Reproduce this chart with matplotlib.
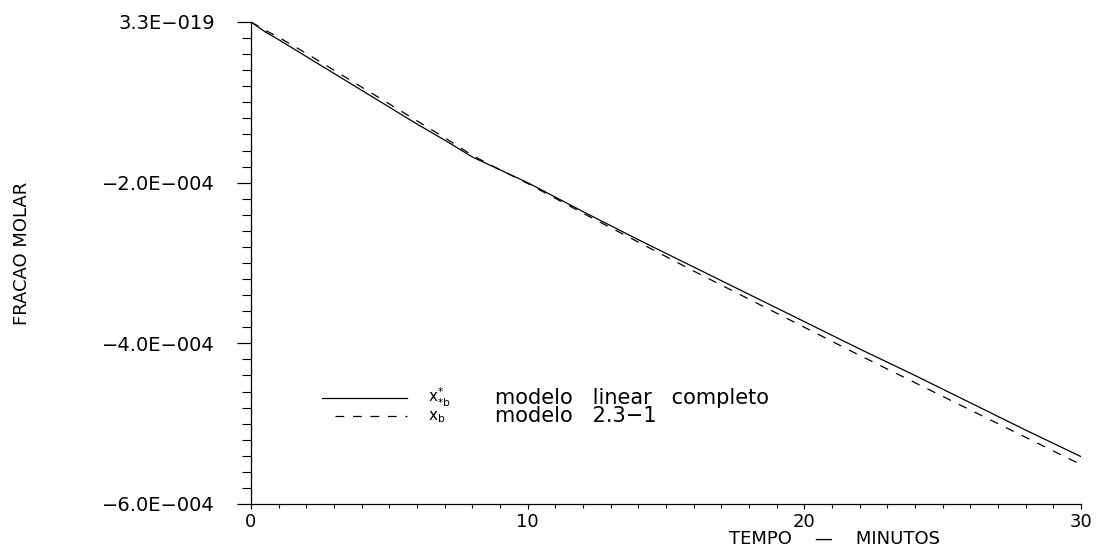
import matplotlib.pyplot as plt
import numpy as np
from matplotlib.ticker import MultipleLocator

# tempo (min) e fracao molar (x 1e-4)
tempo = [0, 0.5, 1, 2, 3, 4, 5, 6, 7, 8, 9, 10, 12, 14, 16, 18, 20, 22, 24, 26, 28, 30]
linear_completo = [0, -0.12, -0.22, -0.43, -0.64, -0.85, -1.06, -1.27, -1.47, -1.68, -1.84,
                   -2.00, -2.36, -2.71, -3.05, -3.39, -3.73, -4.07, -4.40, -4.74, -5.08, -5.41]
modelo_231 = [0, -0.10, -0.19, -0.39, -0.60, -0.81, -1.02, -1.23, -1.44, -1.66, -1.84,
              -2.01, -2.38, -2.74, -3.10, -3.45, -3.80, -4.15, -4.49, -4.83, -5.17, -5.51]

yticks = [0, -2e-4, -4e-4, -6e-4]
ytick_labels = ['3.3E\u2212019', '\u22122.0E\u2212004', '\u22124.0E\u2212004', '\u22126.0E\u2212004']
xticks = [0, 10, 20, 30]
xtick_labels = ['0', '10', '20', '30']

scale = 1e-4

fig = plt.figure(figsize=(11.06, 5.51), dpi=100)
ax = fig.add_axes([0.2269, 0.0853, 0.7505, 0.8748])

ax.plot(tempo, np.array(linear_completo) * scale, color='black', lw=0.9)
ax.plot(tempo, np.array(modelo_231) * scale, color='black', lw=0.9, dashes=(7, 7))

ax.set_xlim(0, 30)
ax.set_ylim(-6e-4, 0)

for side in ['top', 'right']:
    ax.spines[side].set_visible(False)
for side in ['left', 'bottom']:
    ax.spines[side].set_linewidth(0.9)

ax.set_yticks(yticks)
ax.set_yticklabels(ytick_labels, fontsize=14)
ax.yaxis.set_minor_locator(MultipleLocator(0.2e-4))
ax.tick_params(axis='y', which='major', length=10, width=0.9, pad=16)
ax.tick_params(axis='y', which='minor', length=6.5, width=0.8)

ax.set_xticks(xticks)
ax.set_xticklabels(xtick_labels, fontsize=13)
ax.xaxis.set_minor_locator(MultipleLocator(1))
ax.tick_params(axis='x', which='major', length=3.5, width=0.8, pad=3)
ax.tick_params(axis='x', which='minor', length=3, width=0.8)

# rotulos dos eixos
fig.text(835 / 1106, 1 - 544 / 551, 'TEMPO    \u2014    MINUTOS', fontsize=13,
         ha='center', va='baseline')
fig.text(22 / 1106, 1 - 253 / 551, 'FRACAO MOLAR', rotation=90, fontsize=13,
         ha='center', va='center')

# legenda desenhada a mao
def fx(px):
    return px / 1106

def fy(py):
    return 1 - py / 551

fig.add_artist(plt.Line2D([fx(322), fx(407)], [fy(398), fy(398)], color='black', lw=0.9))
fig.add_artist(plt.Line2D([fx(335), fx(407)], [fy(416), fy(416)], color='black', lw=0.9,
                          dashes=(7, 7)))
fig.text(fx(428), fy(397), r'$\mathregular{x^{*}_{*b}}$', fontsize=11, va='center')
fig.text(fx(428), fy(417), r'$\mathregular{x_{b}}$', fontsize=11, va='center')
fig.text(fx(495), fy(398), 'modelo   linear   completo', fontsize=15, va='center')
fig.text(fx(495), fy(416), 'modelo   2.3\u22121', fontsize=15, va='center')

fig.savefig('out.png', dpi=100)
